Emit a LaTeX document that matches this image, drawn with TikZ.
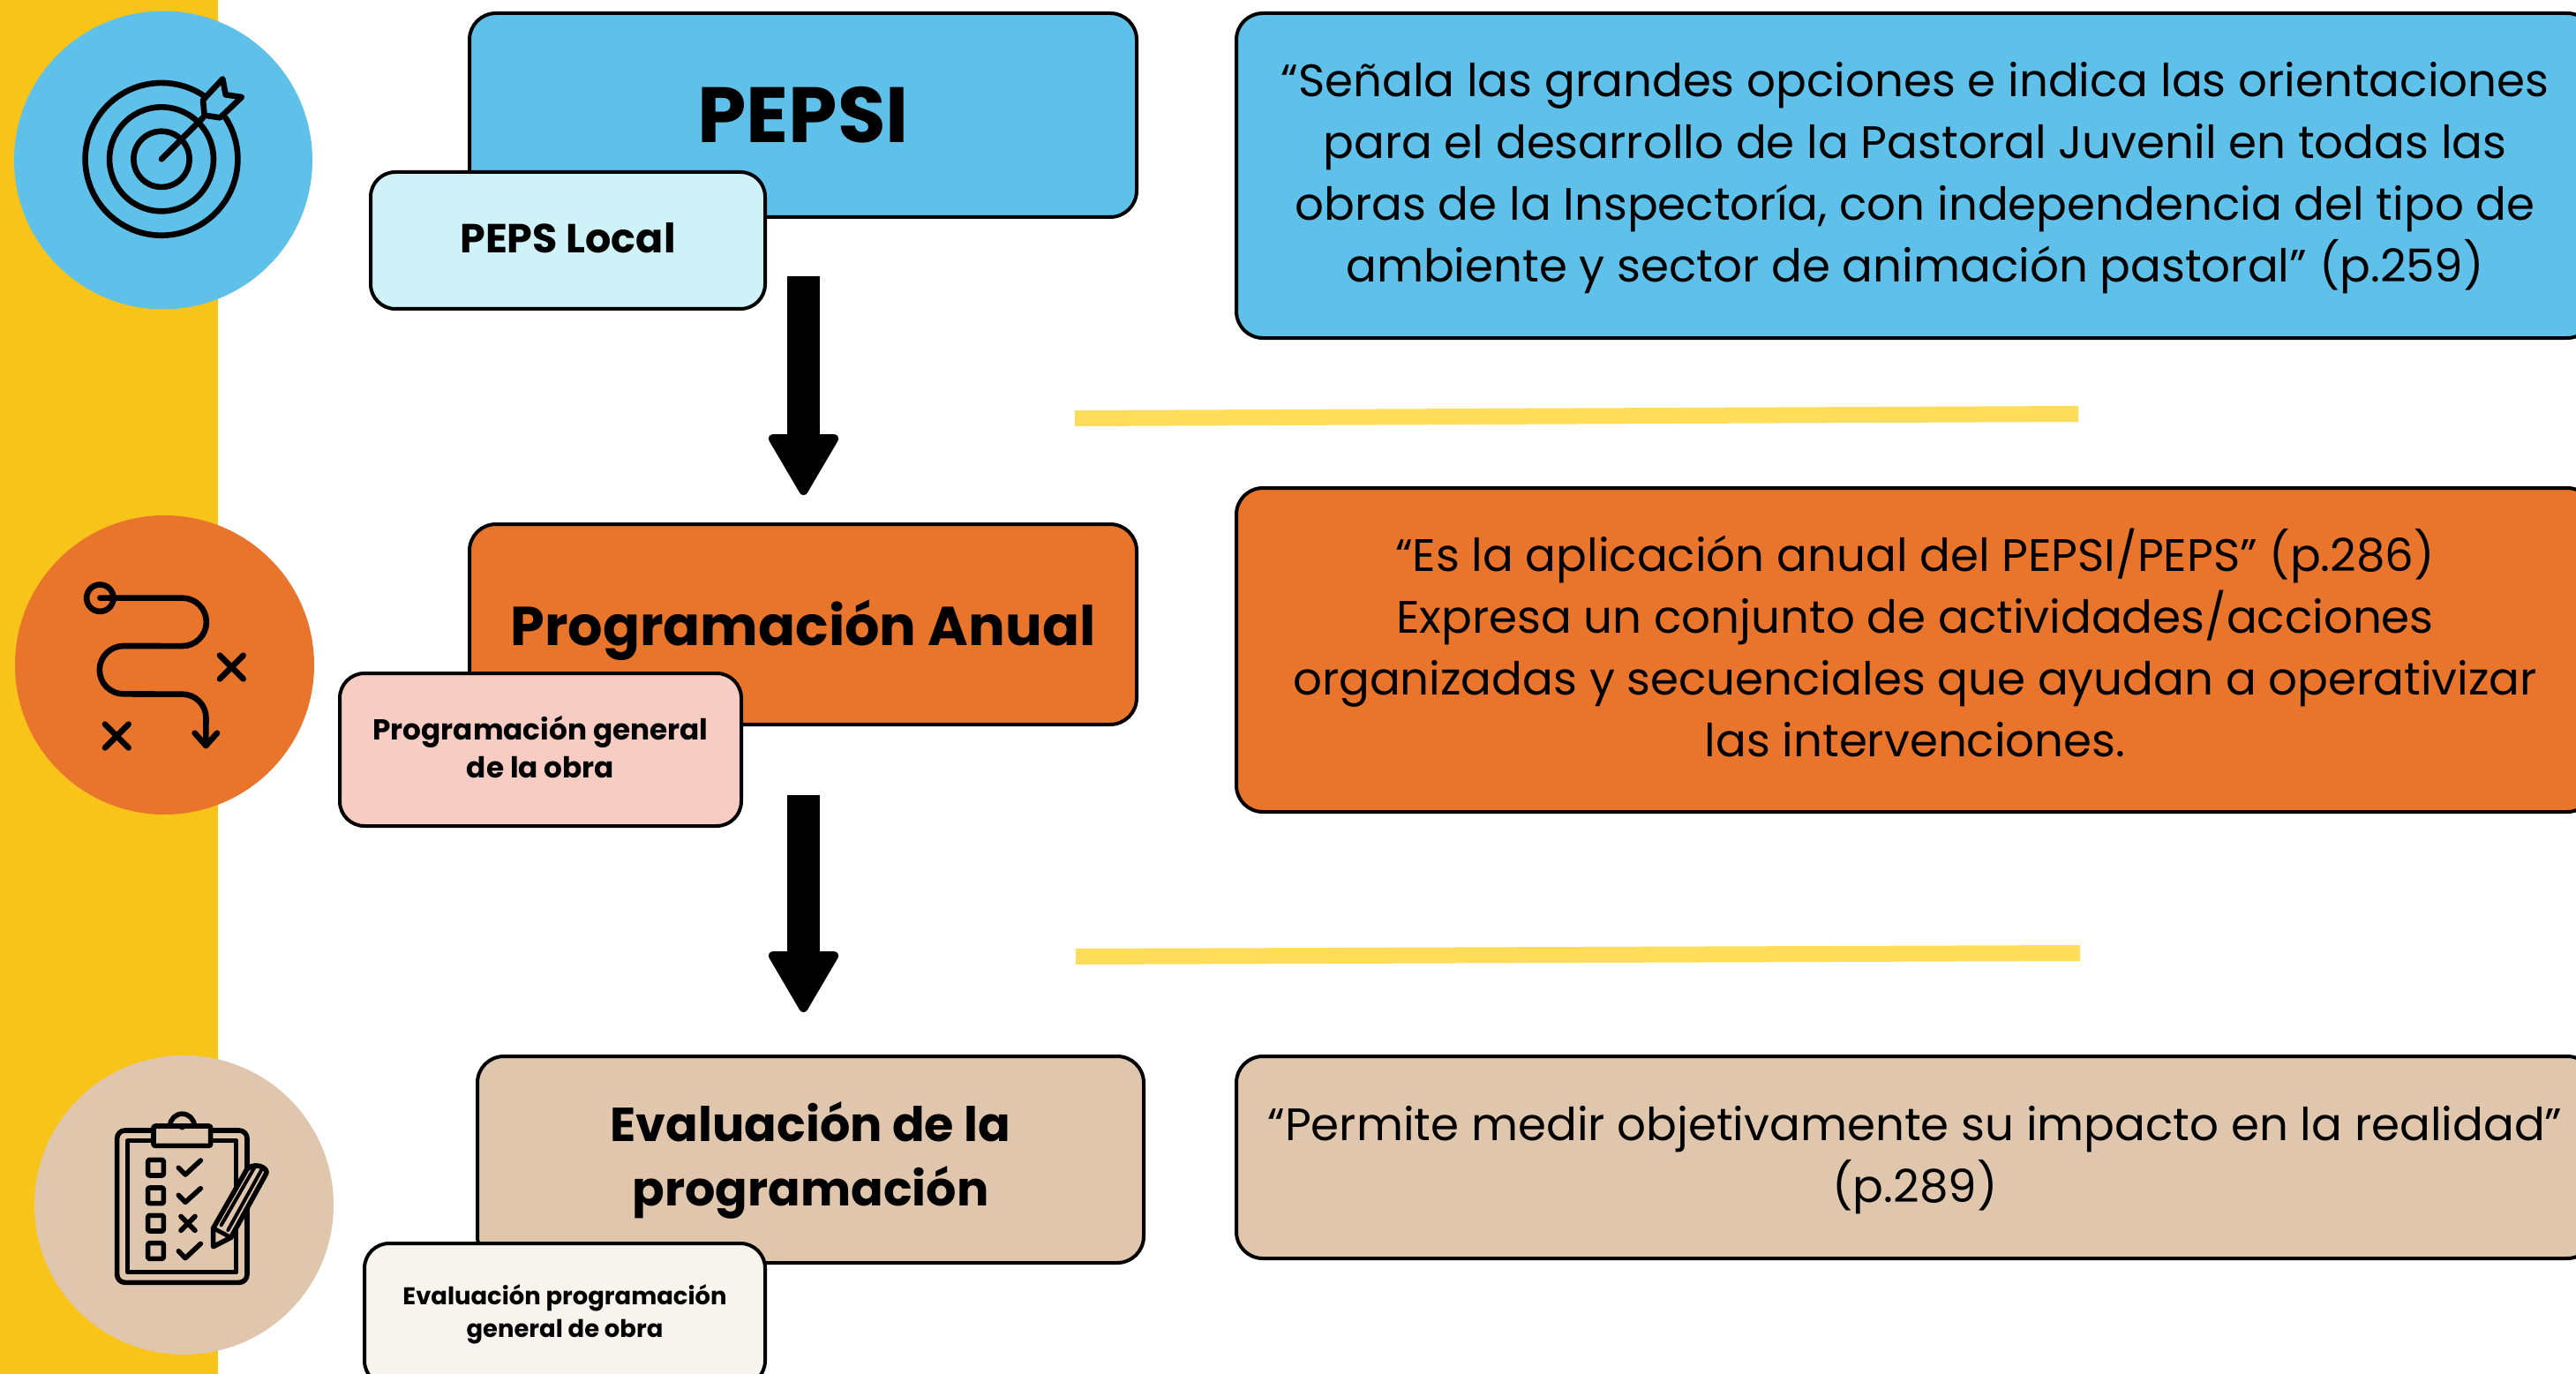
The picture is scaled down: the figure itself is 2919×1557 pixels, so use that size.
\documentclass[tikz,border=0pt]{standalone}
\usepackage{fontspec}
\setmainfont{Poppins}
\usetikzlibrary{arrows.meta}
\definecolor{cyellow}{HTML}{F9C419}
\definecolor{cblue}{HTML}{5FC1E9}
\definecolor{corange}{HTML}{E9742B}
\definecolor{ctan}{HTML}{E0C6AC}
\definecolor{cline}{HTML}{FFDC5A}
\definecolor{clblue}{HTML}{CFF1F8}
\definecolor{cpink}{HTML}{F7CCC2}
\definecolor{ccream}{HTML}{F7F3ED}
\newcommand\shifty[2]{\raisebox{#1}[\dimexpr\height-(#1)\relax][\dimexpr\depth+(#1)\relax]{\begin{tabular}{@{}c@{}}#2\end{tabular}}}
\tikzset{
  box/.style={draw=black,line width=2pt,rounded corners=15pt,inner sep=0pt,align=center,text=black},
  ibox/.style={box,rounded corners=14pt},
  icon/.style={draw=black,line width=3.3pt,line cap=round,line join=round},
  thin icon/.style={icon,line width=2.8pt},
  bigarrow/.style={line width=18.5pt,-{Triangle[length=37pt,width=42pt,line width=5pt,round]}},
  accent/.style={cline,line width=9pt},
  body/.style={font=\fontsize{25.75}{35}\selectfont},
}
\begin{document}
\begin{tikzpicture}[x=0.5pt,y=-0.5pt]
\useasboundingbox (0,0) rectangle (2919,1557);
\fill[cyellow] (0,0) rectangle (247,1557);
% circles
\node[circle,fill=cblue,minimum size=169pt,inner sep=0pt] (c1) at (185,181.5) {};
\node[circle,fill=corange,minimum size=169.5pt,inner sep=0pt] (c2) at (186.5,753.5) {};
\node[circle,fill=ctan,minimum size=169.5pt,inner sep=0pt] (c3) at (208.5,1365.5) {};
% target icon
\begin{scope}[x=0.16667pt,y=-0.16667pt]
\coordinate (tc) at (549,541);
\draw[icon] ([shift={(56:43.2pt)}]tc) arc[start angle=56,end angle=393,radius=43.2pt];
\draw[icon] ([shift={(48:29.5pt)}]tc) arc[start angle=48,end angle=402,radius=29.5pt];
\draw[icon] (tc) circle[radius=15.8pt];
\draw[icon] (tc) -- (690,400);
\draw[icon] (690,340) -- (757,268) -- (767,322) -- (822,330) -- (748,400) -- (695,392) -- cycle;
\end{scope}
% route icon
\begin{scope}[shift={(0,570)},x=0.16667pt,y=-0.16667pt]
\draw[icon] (340,323) circle[radius=7.6pt];
\draw[icon] (340,323) -- (620,323) arc[start angle=90,end angle=-90,radius=13.6pt] -- (420,486) arc[start angle=90,end angle=270,radius=13.6pt] -- (620,650) arc[start angle=90,end angle=0,radius=13.4pt] -- (700,825);
\draw[icon] (662,782) -- (700,825) -- (738,782);
\draw[icon] (747,518) -- (827,598) (827,518) -- (747,598);
\draw[icon] (357,752) -- (437,832) (437,752) -- (357,832);
\end{scope}
% clipboard icon
\begin{scope}[shift={(0,1170)},x=0.16667pt,y=-0.16667pt]
\draw[thin icon,rounded corners=4.5pt] (522,333) -- (398,333) -- (398,850) -- (840,850) -- (840,333) -- (716,333);
\draw[thin icon] (522,368) -- (434,368) -- (434,815) -- (803,815) -- (803,368) -- (716,368);
\draw[thin icon,rounded corners=1pt] (522,318) rectangle (716,385);
\draw[thin icon] (578,318) arc[start angle=180,end angle=0,radius=6.9pt];
\fill (619,320) circle[radius=1.9pt];
\foreach \yy in {433,528,622,716}{\draw[thin icon,rounded corners=1pt] (503,\yy) rectangle (556,\yy+53);}
\draw[thin icon] (607,460) -- (630,483) -- (682,435);
\draw[thin icon] (607,553) -- (630,577) -- (682,530);
\draw[thin icon] (615,625) -- (663,673) (663,625) -- (615,673);
\draw[thin icon] (607,743) -- (630,767) -- (682,718);
\draw[thin icon,fill=ctan] (725,728) -- (725,665) -- (832,478) .. controls (850,430) and (925,460) .. (902,485) -- (785,697) -- cycle;
\draw[icon,line width=2pt] (869,452) -- (752,655) (890,465) -- (775,672);
\draw[icon,line width=2.4pt] (725,665) -- (785,697);
\end{scope}
% main boxes
\node[box,fill=cblue,minimum width=378pt,minimum height=115.5pt,font=\fontsize{44.4}{50}\selectfont\bfseries] (pepsi) at (910,130.5) {\shifty{-2.8pt}{PEPSI}};
\node[ibox,fill=clblue,minimum width=223.5pt,minimum height=77.5pt,font=\fontsize{23}{28}\selectfont\bfseries] (peps) at (643.5,272.5) {\shifty{-0.6pt}{PEPS Local}};
\node[box,fill=corange,minimum width=378pt,minimum height=113.5pt,font=\fontsize{31}{38}\selectfont\bfseries] (anual) at (910,707.5) {\shifty{-2.3pt}{Programación Anual}};
\node[ibox,fill=cpink,minimum width=227.5pt,minimum height=86.5pt,font=\fontsize{16.35}{21.5}\selectfont\bfseries] (gen) at (612.5,849.5) {\shifty{-0.4pt}{Programación general\\de la obra}};
\node[box,fill=ctan,minimum width=377.5pt,minimum height=117pt,font=\fontsize{27}{36.5}\selectfont\bfseries] (eval) at (918.5,1314) {\shifty{-0.3pt}{Evaluación de la\\programación}};
\node[ibox,fill=ccream,minimum width=227pt,minimum height=80.5pt,font=\fontsize{13.7}{18.5}\selectfont\bfseries] (evg) at (640,1489.5) {\shifty{0pt}{Evaluación programación\\general de obra}};
% text boxes
\node[box,fill=cblue,minimum width=769pt,minimum height=184pt,body] (t1) at (2170,199) {\shifty{-0.4pt}{“Señala las grandes opciones e indica las orientaciones\\para el desarrollo de la Pastoral Juvenil en todas las\\obras de la Inspectoría, con independencia del tipo de\\ambiente y sector de animación pastoral” (p.259)}};
\node[box,fill=corange,minimum width=769pt,minimum height=183.5pt,body] (t2) at (2170,736.5) {\shifty{-0.4pt}{“Es la aplicación anual del PEPSI/PEPS” (p.286)\\Expresa un conjunto de actividades/acciones\\organizadas y secuenciales que ayudan a operativizar\\las intervenciones.}};
\node[box,fill=ctan,minimum width=769pt,minimum height=114.5pt,body] (t3) at (2170,1311.5) {\shifty{-0.4pt}{“Permite medir objetivamente su impacto en la realidad”\\(p.289)}};
% arrows
\coordinate (a1s) at (910.5,313);
\coordinate (a1e) at (910.5,561);
\coordinate (a2s) at (910.5,901);
\coordinate (a2e) at (910.5,1147);
\draw[bigarrow] (a1s) -- (a1e);
\draw[bigarrow] (a2s) -- (a2e);
% accent lines
\coordinate (l1a) at (1218,474);
\coordinate (l1b) at (2355,469);
\coordinate (l2a) at (1219,1084);
\coordinate (l2b) at (2357,1080);
\draw[accent] (l1a) -- (l1b);
\draw[accent] (l2a) -- (l2b);
\end{tikzpicture}
\end{document}
